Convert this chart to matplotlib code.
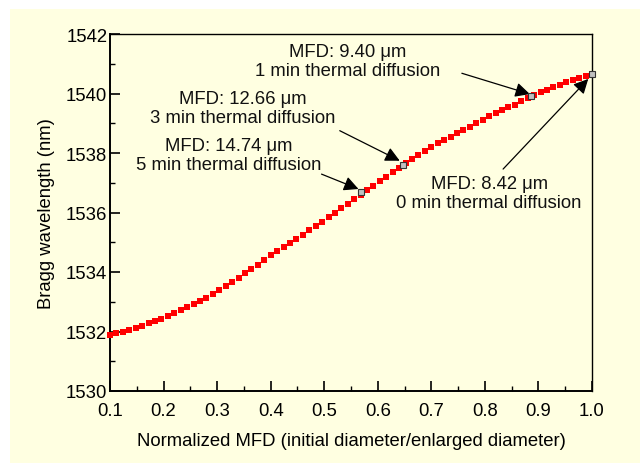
import matplotlib
matplotlib.use("Agg")
import matplotlib.pyplot as plt
from matplotlib.patches import Rectangle
from matplotlib.ticker import MultipleLocator

plt.rcParams['font.family'] = ['Liberation Sans', 'DejaVu Sans']

# Normalized MFD values
mfd_norm = [0.100, 0.112, 0.124, 0.136, 0.148, 0.160, 0.172, 0.184, 0.196, 0.208,
            0.220, 0.232, 0.244, 0.256, 0.268, 0.280, 0.292, 0.304, 0.316, 0.328,
            0.340, 0.352, 0.364, 0.376, 0.388, 0.400, 0.412, 0.424, 0.436, 0.448,
            0.460, 0.472, 0.484, 0.496, 0.508, 0.520, 0.532, 0.544, 0.556, 0.568,
            0.580, 0.592, 0.604, 0.616, 0.628, 0.640, 0.652, 0.664, 0.676, 0.688,
            0.700, 0.712, 0.724, 0.736, 0.748, 0.760, 0.772, 0.784, 0.796, 0.808,
            0.820, 0.832, 0.844, 0.856, 0.868, 0.880, 0.892, 0.904, 0.916, 0.928,
            0.940, 0.952, 0.964, 0.976, 0.988, 1.000]
# Bragg wavelength (nm)
bragg = [1531.88, 1531.94, 1532.00, 1532.05, 1532.11, 1532.19, 1532.27, 1532.35, 1532.43, 1532.52,
         1532.62, 1532.72, 1532.81, 1532.92, 1533.03, 1533.14, 1533.25, 1533.38, 1533.52, 1533.66,
         1533.80, 1533.95, 1534.10, 1534.25, 1534.41, 1534.56, 1534.70, 1534.83, 1534.97, 1535.11,
         1535.25, 1535.40, 1535.55, 1535.69, 1535.84, 1536.00, 1536.15, 1536.30, 1536.45, 1536.60,
         1536.75, 1536.90, 1537.05, 1537.20, 1537.35, 1537.50, 1537.65, 1537.79, 1537.93, 1538.06,
         1538.20, 1538.32, 1538.43, 1538.55, 1538.66, 1538.78, 1538.89, 1539.01, 1539.12, 1539.23,
         1539.33, 1539.43, 1539.53, 1539.63, 1539.74, 1539.84, 1539.94, 1540.04, 1540.13, 1540.21,
         1540.30, 1540.38, 1540.45, 1540.52, 1540.59, 1540.66]

# Highlighted measurements
marker_x = [0.569, 0.648, 0.887, 1.000]
marker_y = [1536.68, 1537.61, 1539.93, 1540.66]
labels = ["MFD: 14.74 \u03bcm\n5 min thermal diffusion",
          "MFD: 12.66 \u03bcm\n3 min thermal diffusion",
          "MFD: 9.40 \u03bcm\n1 min thermal diffusion",
          "MFD: 8.42 \u03bcm\n0 min thermal diffusion"]
label_pos = [(0.322, 1537.93), (0.348, 1539.51), (0.544, 1541.09), (0.808, 1536.66)]
arrow_tail = [(0.495, 1537.29), (0.529, 1538.75), (0.757, 1540.68), (0.834, 1537.46)]
arrow_tip = [(0.564, 1536.79), (0.641, 1537.74), (0.884, 1539.98), (0.993, 1540.49)]

cream = '#FFFFE1'
fs = 13.3
fig = plt.figure(figsize=(6.4, 4.64), dpi=100, facecolor='white')
fig.patches.append(Rectangle((10 / 640, 0), 630 / 640, 454 / 464,
                             transform=fig.transFigure, facecolor=cream,
                             edgecolor='none', zorder=-10))
ax = fig.add_axes([110 / 640, 1 - 392 / 464, 482 / 640, 357 / 464])
ax.set_facecolor(cream)

ax.plot(mfd_norm, bragg, linestyle='none', marker='s', markersize=4.2,
        color='#FF0000', markeredgewidth=0, zorder=3, clip_on=False)
ax.plot(marker_x, marker_y, linestyle='none', marker='s', markersize=4.8,
        markerfacecolor='#C0C0C0', markeredgecolor='#333333', markeredgewidth=0.8,
        zorder=4, clip_on=False)

for lab, pos in zip(labels, label_pos):
    ax.text(pos[0], pos[1], lab, ha='center', va='center', fontsize=fs,
            linespacing=1.12, color='#111111')
for tail, tip in zip(arrow_tail, arrow_tip):
    ax.annotate('', xy=tip, xytext=tail,
                arrowprops=dict(arrowstyle='-|>', mutation_scale=22, lw=0.9,
                                color='black', shrinkA=0, shrinkB=0))

ax.set_xlim(0.1, 1.0)
ax.set_ylim(1530, 1542)
ax.xaxis.set_major_locator(MultipleLocator(0.1))
ax.xaxis.set_minor_locator(MultipleLocator(0.05))
ax.yaxis.set_major_locator(MultipleLocator(2))
ax.yaxis.set_minor_locator(MultipleLocator(1))
ax.set_xticklabels([f"{v:.1f}" for v in ax.get_xticks()])
ax.tick_params(axis='both', which='both', direction='in', top=False, right=False,
               labelsize=fs, colors='black')
ax.tick_params(axis='both', which='major', length=7, width=1.2)
ax.tick_params(axis='both', which='minor', length=3.5, width=1.0)
ax.tick_params(axis='x', which='major', pad=8)
ax.tick_params(axis='y', which='major', pad=2)
for s in ax.spines.values():
    s.set_linewidth(1.0)
ax.spines['left'].set_linewidth(1.4)
ax.spines['bottom'].set_linewidth(1.4)

ax.set_xlabel('Normalized MFD (initial diameter/enlarged diameter)', fontsize=fs, labelpad=9)
ax.set_ylabel('Bragg wavelength (nm)', fontsize=fs, labelpad=8)

fig.savefig('out.png', dpi=100, facecolor=fig.get_facecolor())
